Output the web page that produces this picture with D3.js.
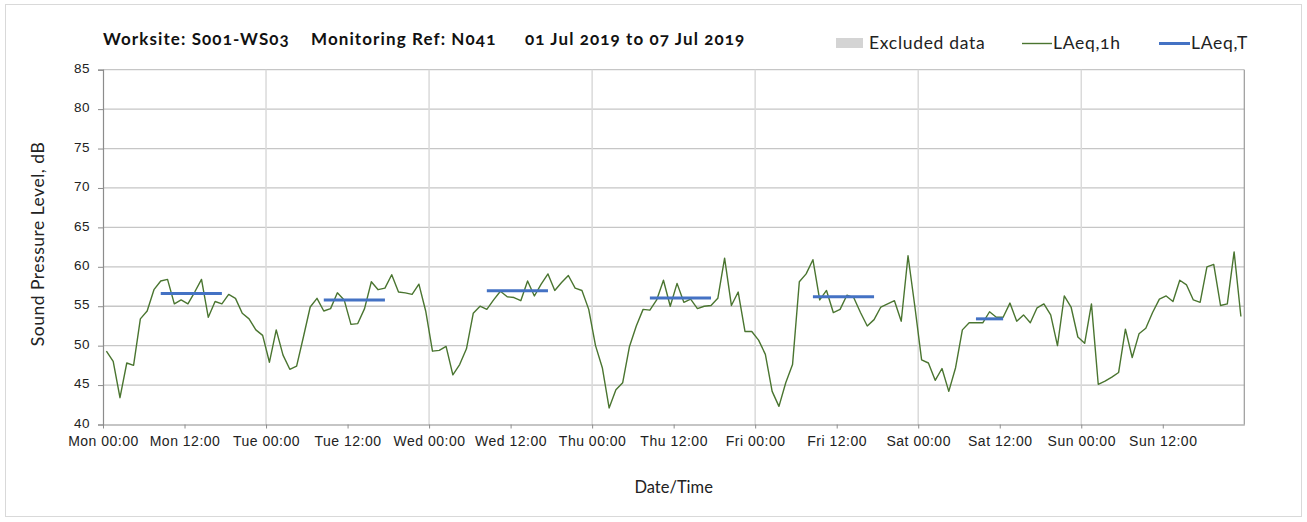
<!DOCTYPE html>
<html>
<head>
<meta charset="utf-8">
<script src="https://cdn.jsdelivr.net/npm/d3@7"></script>
<style>
  html, body { margin: 0; padding: 0; background: #fff; }
  svg { display: block; font-family: Lato, "Open Sans", sans-serif; font-variant-numeric: oldstyle-nums; font-feature-settings: "onum" 1; }
</style>
</head>
<body>
<svg id="chart" width="1307" height="522"></svg>
<script>
// ---- data (hourly LAeq,1h, dB), one array per day ----
const mon = [49.3, 48.0, 43.4, 47.8, 47.5, 53.4, 54.4, 57.1, 58.2, 58.4, 55.3, 55.8, 55.3, 56.8, 58.4, 53.6, 55.6, 55.3, 56.5, 56.0, 54.1, 53.4, 52.0, 51.3];
const tue = [47.9, 52.0, 48.8, 47.0, 47.4, 51.1, 54.9, 56.0, 54.4, 54.7, 56.7, 55.8, 52.7, 52.8, 54.7, 58.1, 57.1, 57.3, 59.0, 56.8, 56.7, 56.5, 57.8, 54.4];
const wed = [49.3, 49.4, 49.9, 46.3, 47.6, 49.6, 54.1, 55.0, 54.6, 55.8, 56.9, 56.2, 56.1, 55.7, 58.2, 56.3, 57.8, 59.1, 57.0, 58.0, 58.9, 57.3, 57.0, 54.6];
const thu = [50.0, 47.2, 42.1, 44.4, 45.3, 49.9, 52.5, 54.6, 54.5, 55.8, 58.3, 55.0, 57.9, 55.5, 55.9, 54.7, 55.0, 55.1, 56.0, 61.1, 55.1, 56.8, 51.8, 51.8];
const fri = [50.7, 48.9, 44.2, 42.3, 45.3, 47.6, 58.1, 59.1, 60.9, 55.8, 57.0, 54.2, 54.6, 56.4, 56.1, 54.2, 52.5, 53.3, 54.9, 55.3, 55.7, 53.1, 61.4, 55.0];
const sat = [48.2, 47.8, 45.6, 47.1, 44.2, 47.2, 52.0, 52.9, 52.9, 52.9, 54.3, 53.6, 53.6, 55.4, 53.1, 53.9, 52.9, 54.8, 55.3, 53.9, 50.0, 56.3, 54.9, 51.1];
const sun = [50.3, 55.3, 45.1, 45.5, 46.0, 46.6, 52.1, 48.5, 51.5, 52.2, 54.2, 55.9, 56.3, 55.6, 58.3, 57.7, 55.8, 55.5, 60.0, 60.3, 55.1, 55.3, 61.9, 53.7];

// LAeq,T daytime periods: day index, start hour, end hour, level
const periodDay   = [0, 1, 2, 3, 4, 5];
const periodStart = [8, 8, 8, 8, 8, 8];
const periodEnd   = [17, 17, 17, 17, 17, 12];
const periodLevel = [56.6, 55.8, 56.95, 56.05, 56.2, 53.4];

const yTicks = [40, 45, 50, 55, 60, 65, 70, 75, 80, 85];
const titleParts = ["Worksite: S001-WS03", "Monitoring Ref: N041", "01 Jul 2019 to 07 Jul 2019"];
const legendLabels = ["Excluded data", "LAeq,1h", "LAeq,T"];

// ---- build ----
const HOUR = 3600 * 1000;
const start = new Date(2019, 6, 1, 0, 0);
const end = new Date(2019, 6, 8, 0, 0);
const days = [mon, tue, wed, thu, fri, sat, sun];
const hourly = [];
days.forEach((arr, d) => arr.forEach((v, h) => hourly.push({ t: new Date(+start + (d * 24 + h + 0.5) * HOUR), v })));

const svg = d3.select("#chart");
const L = 103, R = 1244.3, T = 69.7, B = 424.5;

const x = d3.scaleTime().domain([start, end]).range([L, R]);
const y = d3.scaleLinear().domain([40, 85]).range([B, T]);

// outer border
svg.append("rect").attr("x", 5.5).attr("y", 4.5).attr("width", 1296).attr("height", 512)
  .attr("fill", "#fff").attr("stroke", "#d9d9d9").attr("stroke-width", 1);

// horizontal gridlines
svg.append("g").selectAll("line").data(yTicks.slice(1)).join("line")
  .attr("x1", L).attr("x2", R).attr("y1", d => y(d)).attr("y2", d => y(d))
  .attr("stroke", "#c6c6c6").attr("stroke-width", 1.3);

// vertical day gridlines
const dayTicks = d3.range(1, 7).map(d => new Date(+start + d * 24 * HOUR));
svg.append("g").selectAll("line").data(dayTicks).join("line")
  .attr("x1", d => x(d)).attr("x2", d => x(d)).attr("y1", T).attr("y2", B)
  .attr("stroke", "#dadada").attr("stroke-width", 1.5);

// right frame
svg.append("line").attr("x1", R).attr("x2", R).attr("y1", T).attr("y2", B)
  .attr("stroke", "#9a9a9a").attr("stroke-width", 1.2);

// y axis
const yAxis = d3.axisLeft(y).tickValues(yTicks).tickSize(5).tickPadding(8).tickFormat(d3.format("d"));
const gy = svg.append("g").attr("transform", `translate(${L},0)`).call(yAxis);
gy.select(".domain").attr("stroke", "#8c8c8c").attr("stroke-width", 1.2);
gy.selectAll(".tick line").attr("stroke", "#8c8c8c");
gy.selectAll(".tick text").attr("font-size", 13.5).attr("fill", "#222").attr("dy", "0.2em").attr("letter-spacing", 0.5);

// x axis
const xTickVals = d3.range(0, 14).map(i => new Date(+start + i * 12 * HOUR));
const xAxis = d3.axisBottom(x).tickValues(xTickVals).tickSize(4).tickSizeOuter(0).tickPadding(8)
  .tickFormat(d3.timeFormat("%a %H:%M"));
const gx = svg.append("g").attr("transform", `translate(0,${B})`).call(xAxis);
gx.select(".domain").attr("stroke", "#8c8c8c").attr("stroke-width", 1.2);
gx.selectAll(".tick line").attr("stroke", "#8c8c8c");
gx.selectAll(".tick text").attr("font-size", 14).attr("fill", "#222").attr("letter-spacing", 0.5);

// LAeq,1h line
svg.append("path").datum(hourly)
  .attr("fill", "none").attr("stroke", "#4a7530").attr("stroke-width", 1.4).attr("stroke-linejoin", "round")
  .attr("d", d3.line().x(d => x(d.t)).y(d => y(d.v)));

// LAeq,T lines
const periods = periodDay.map((d, i) => ({
  t0: new Date(+start + (d * 24 + periodStart[i] + 0.5) * HOUR),
  t1: new Date(+start + (d * 24 + periodEnd[i] + 0.5) * HOUR),
  v: periodLevel[i]
}));
svg.append("g").selectAll("line").data(periods).join("line")
  .attr("x1", d => x(d.t0)).attr("x2", d => x(d.t1)).attr("y1", d => y(d.v)).attr("y2", d => y(d.v))
  .attr("stroke", "#4472c4").attr("stroke-width", 3);

// title
const titleX = [103, 311, 525];
svg.append("g").selectAll("text").data(titleParts).join("text")
  .attr("x", (d, i) => titleX[i]).attr("y", 45)
  .attr("font-size", 17).attr("font-weight", "bold").attr("letter-spacing", 1.1).attr("fill", "#111").text(d => d);

// legend
const lg = svg.append("g").attr("font-size", 17.5).attr("letter-spacing", 0.7).attr("fill", "#222");
lg.append("rect").attr("x", 836).attr("y", 38).attr("width", 27).attr("height", 10).attr("fill", "#d4d4d4");
lg.append("text").attr("x", 869).attr("y", 49).text(legendLabels[0]);
lg.append("line").attr("x1", 1022).attr("x2", 1052).attr("y1", 43.5).attr("y2", 43.5).attr("stroke", "#4a7530").attr("stroke-width", 1.4);
lg.append("text").attr("x", 1053).attr("y", 49).text(legendLabels[1]);
lg.append("line").attr("x1", 1159).attr("x2", 1190).attr("y1", 43.5).attr("y2", 43.5).attr("stroke", "#4472c4").attr("stroke-width", 3);
lg.append("text").attr("x", 1191).attr("y", 49).text(legendLabels[2]);

// axis titles
svg.append("text").attr("transform", "translate(44,244) rotate(-90)").attr("text-anchor", "middle")
  .attr("font-size", 17.5).attr("letter-spacing", 0.5).attr("fill", "#222").text("Sound Pressure Level, dB");
svg.append("text").attr("x", (L + R) / 2).attr("y", 493).attr("text-anchor", "middle")
  .attr("font-size", 16.5).attr("fill", "#222").text("Date/Time");
</script>
</body>
</html>
